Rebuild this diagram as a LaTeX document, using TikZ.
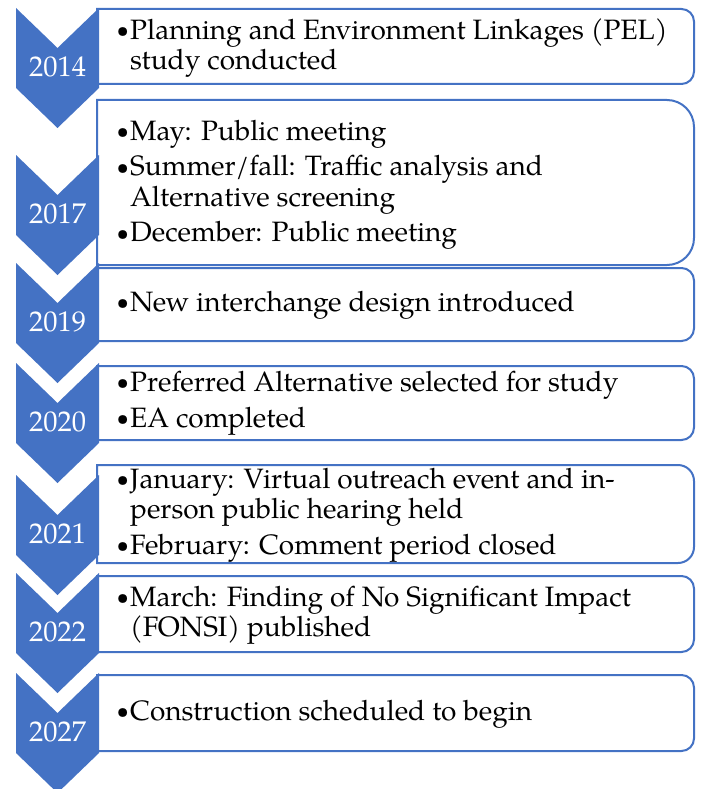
\documentclass[tikz,border=0pt]{standalone}
\usepackage{fontspec}
\setmainfont{TeX Gyre Pagella}
\definecolor{accent}{HTML}{4472C4}

% one bulleted paragraph with a hanging indent under the bullet
\newcommand\bul[1]{\par\hangindent=15pt\hangafter=1\noindent
  \makebox[15pt][l]{\hspace{1.5pt}\raisebox{1.6pt}{\fontsize{22}{22}\selectfont\textbullet}}#1\par}

% a phase box: square on the left, rounded on the right
% #1 top, #2 bottom, #3 corner radius
\newcommand\phasebox[3]{%
  \draw[boxline] (97,-#1) -- ({694-#3},-#1)
    arc[start angle=90,end angle=0,radius=#3] -- (694,{-#2+#3})
    arc[start angle=0,end angle=-90,radius=#3] -- (97,-#2) -- cycle;}

% a chevron pointing down, 120 high, #1 = top edge
\newcommand\yearchev[3]{%
  \fill[accent] (16,-#1) -- (57.5,{-#1-40}) -- (99,-#1) -- (99,{-#1-80})
    -- (57.5,{-#1-120}) -- (16,{-#1-80}) -- cycle;
  \node[yearlabel] (#2) at (57.5,{-#1-59}) {#3};}

\begin{document}
\begin{tikzpicture}[x=1pt,y=1pt,
  boxline/.style={draw=accent,line width=2pt,fill=white},
  yearlabel/.style={text=white,font=\fontsize{28.5}{30}\selectfont,inner sep=0pt},
  itemtext/.style={anchor=west,inner sep=0pt,font=\fontsize{28}{30.5}\selectfont}]
\useasboundingbox (0,0) rectangle (701,-789);

% phase boxes
\phasebox{9}{84}{12.5}
\phasebox{100}{265}{27}
\phasebox{268}{341}{12.5}
\phasebox{366}{440}{12.5}
\phasebox{465}{563}{16}
\phasebox{576}{652}{12.5}
\phasebox{675}{751}{12.5}

% year chevrons
\yearchev{8}{y2014}{2014}
\yearchev{155}{y2017}{2017}
\yearchev{263}{y2019}{2019}
\yearchev{363}{y2020}{2020}
\yearchev{475}{y2021}{2021}
\yearchev{573}{y2022}{2022}
\yearchev{673}{y2027}{2027}

% milestones
\node[itemtext] (t2014) at (115,-48) {\begin{minipage}{575pt}\setlength{\parskip}{5pt}%
  \bul{Planning and Environment Linkages (PEL)\\study conducted}\end{minipage}};
\node[itemtext] (t2017) at (115,-185) {\begin{minipage}{575pt}\setlength{\parskip}{5pt}%
  \bul{May: Public meeting}
  \bul{Summer/fall: Traffic analysis and\\Alternative screening}
  \bul{December: Public meeting}\end{minipage}};
\node[itemtext] (t2019) at (115,-305) {\begin{minipage}{575pt}\setlength{\parskip}{5pt}%
  \bul{New interchange design introduced}\end{minipage}};
\node[itemtext] (t2020) at (115,-403) {\begin{minipage}{575pt}\setlength{\parskip}{5pt}%
  \bul{Preferred Alternative selected for study}
  \bul{EA completed}\end{minipage}};
\node[itemtext] (t2021) at (115,-515) {\begin{minipage}{575pt}\setlength{\parskip}{5pt}%
  \bul{January: Virtual outreach event and in-\\person public hearing held}
  \bul{February: Comment period closed}\end{minipage}};
\node[itemtext] (t2022) at (115,-615) {\begin{minipage}{575pt}\setlength{\parskip}{5pt}%
  \bul{March: Finding of No Significant Impact\\(FONSI) published}\end{minipage}};
\node[itemtext] (t2027) at (115,-714) {\begin{minipage}{575pt}\setlength{\parskip}{5pt}%
  \bul{Construction scheduled to begin}\end{minipage}};
\end{tikzpicture}
\end{document}
